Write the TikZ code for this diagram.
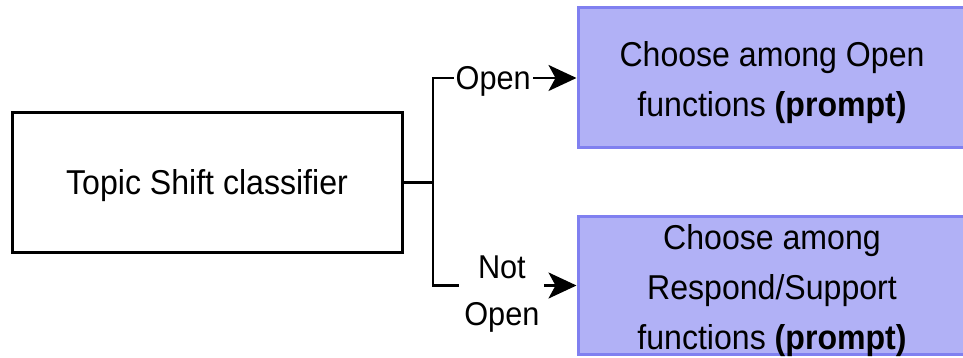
\documentclass[tikz,border=0pt]{standalone}
\usepackage{fontspec}
\setmainfont[FakeStretch=0.93]{Liberation Sans}
\usetikzlibrary{arrows.meta}
\definecolor{boxfill}{RGB}{177,177,246}
\definecolor{boxline}{RGB}{128,128,240}
\begin{document}
\begin{tikzpicture}[x=1pt,y=-1pt,
  boxtext/.style={align=center, inner sep=0pt,
    font=\fontsize{34.5}{50}\selectfont},
  plainbox/.style={draw=black, line width=3pt, fill=white, inner sep=0pt},
  fnbox/.style={draw=boxline, line width=3pt, fill=boxfill, inner sep=0pt,
    minimum width=388pt},
  conn/.style={line width=2.5pt, draw=black,
    -{Stealth[length=28pt,width=26pt,inset=7pt]}},
  lbl/.style={fill=white, align=center, inner sep=2pt,
    font=\fontsize{33}{47}\selectfont}]
  \useasboundingbox (0,0) rectangle (963,358);
  \fill[white] (0,0) rectangle (963,358);

  % classifier and the two prompt boxes
  \node[plainbox, minimum width=390pt, minimum height=139pt] (cls) at (207,182.5) {};
  \node[boxtext] (clstext) at ([yshift=-3pt]cls.center) {Topic Shift classifier};

  \node[fnbox, minimum height=140pt] (open) at (772,78) {};
  \node[boxtext] (opentext) at ([yshift=-5pt]open.center)
    {Choose among Open\\functions \textbf{(prompt)}};

  \node[fnbox, minimum height=138pt] (other) at (772,285.5) {};
  \node[boxtext] (othertext) at ([yshift=-5pt]other.center)
    {Choose among\\Respond/Support\\functions \textbf{(prompt)}};

  % branching point
  \coordinate (j) at (433,182.5);

  % branches
  \draw[conn] (cls.east) -- (j) |- node[lbl, pos=0.71, yshift=-3pt] {Open} (open.west);
  \draw[conn] (cls.east) -- (j) |- node[lbl, pos=0.74, yshift=-9pt, inner xsep=5pt] {Not\\Open} (other.west);
\end{tikzpicture}
\end{document}
